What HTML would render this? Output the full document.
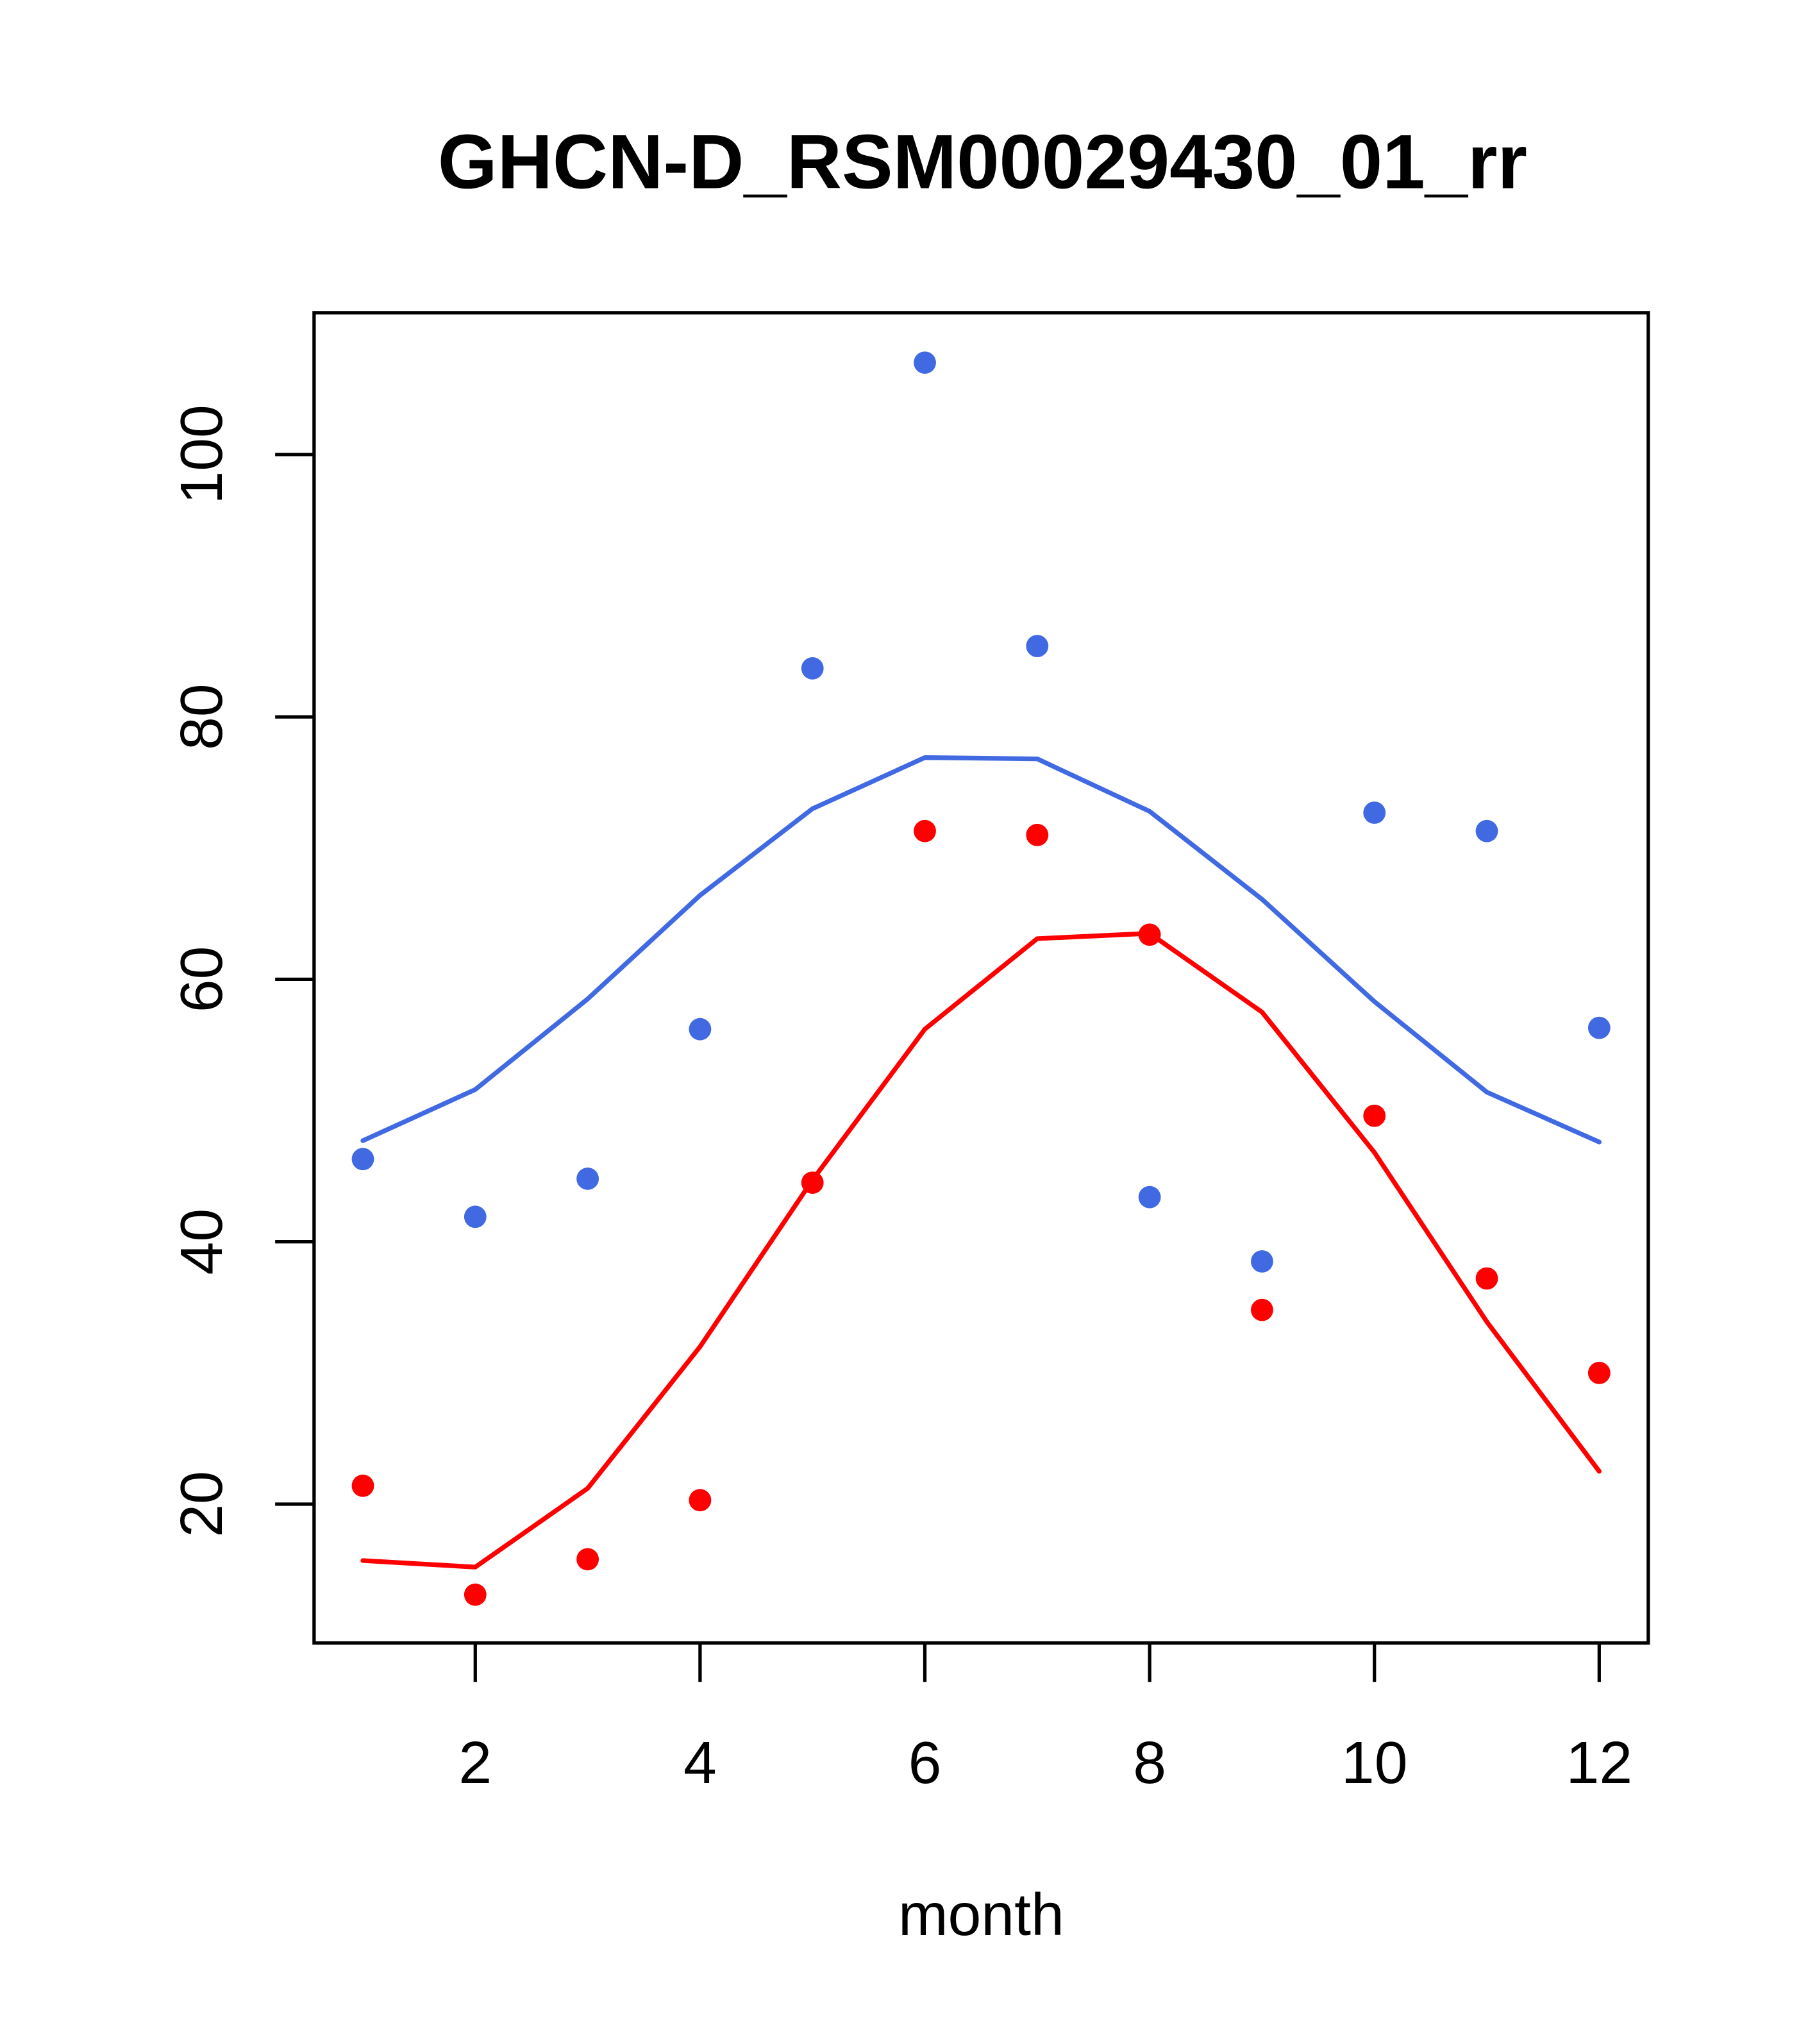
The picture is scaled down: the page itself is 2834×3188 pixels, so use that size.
<!DOCTYPE html>
<html><head><meta charset="utf-8"><style>html,body{margin:0;padding:0;background:#fff}svg{display:block}</style></head>
<body>
<svg id="chart" width="2834" height="3188" viewBox="0 0 1400 1575" preserveAspectRatio="none" xmlns="http://www.w3.org/2000/svg" font-family="Liberation Sans, Arial, sans-serif">
<rect width="1400" height="1575" fill="#fff"/>
<text x="757" y="145" font-size="59" font-weight="bold" text-anchor="middle">GHCN-D_RSM00029430_01_rr</text>
<rect x="242" y="241" width="1028" height="1025" fill="none" stroke="#000" stroke-width="2.6"/>
<text x="756" y="1491" font-size="46" text-anchor="middle">month</text>
<g id="xaxis"></g><g id="yaxis"></g><g id="series"></g>
</svg>
<script>
const months=[1,2,3,4,5,6,7,8,9,10,11,12];
const bluePoints=[46.3,41.9,44.8,56.2,83.7,107,85.4,43.4,38.5,72.7,71.3,56.3];
const blueLine=[47.7,51.6,58.5,66.4,73,76.9,76.8,72.8,66.1,58.3,51.4,47.6];
const redPoints=[21.4,13.1,15.8,20.3,44.5,71.3,71.0,63.4,34.8,49.6,37.2,30.0];
const redLine=[15.7,15.2,21.2,32,44.7,56.2,63.1,63.5,57.5,46.8,33.9,22.5];
const xTicks=[2,4,6,8,10,12];
const yTicks=[20,40,60,80,100];
const NS="http://www.w3.org/2000/svg";
function X(m){return 279.6+(m-1)*86.6;}
function Y(v){return 1159-(v-20)*10.11;}
function mk(tag,attrs,parent){const e=document.createElementNS(NS,tag);for(const k in attrs)e.setAttribute(k,attrs[k]);parent.appendChild(e);return e;}
const xa=document.getElementById('xaxis'),ya=document.getElementById('yaxis'),sg=document.getElementById('series');
xTicks.forEach(t=>{
 const l=mk('line',{x1:X(t),x2:X(t),y1:1266,y2:1296,stroke:'#000','stroke-width':2.6},xa);
 
 
 const tx=mk('text',{x:X(t),y:1374,'font-size':46,'text-anchor':'middle'},xa);tx.textContent=t;
 
 
});
yTicks.forEach(t=>{
 const l=mk('line',{x1:212,x2:242,y1:Y(t),y2:Y(t),stroke:'#000','stroke-width':2.6},ya);
 
 
 const tx=mk('text',{x:0,y:0,'font-size':46,'text-anchor':'middle',transform:`translate(171,${Y(t)}) rotate(-90)`},ya);tx.textContent=t;
 
 
});
function line(vals,color,name){
 const p=mk('polyline',{points:months.map((m,i)=>X(m)+','+Y(vals[i])).join(' '),fill:'none',stroke:color,'stroke-width':3.6,'stroke-linecap':'round','stroke-linejoin':'round'},sg);
 
 
}
function pts(vals,color,name){
 months.forEach((m,i)=>{
  const c=mk('circle',{cx:X(m),cy:Y(vals[i]),r:8.6,fill:color},sg);
  
  
 });
}
line(blueLine,'#4169E1','blue-line');
line(redLine,'#FF0000','red-line');
pts(bluePoints,'#4169E1','blue-point');
pts(redPoints,'#FF0000','red-point');
</script>
</body></html>
